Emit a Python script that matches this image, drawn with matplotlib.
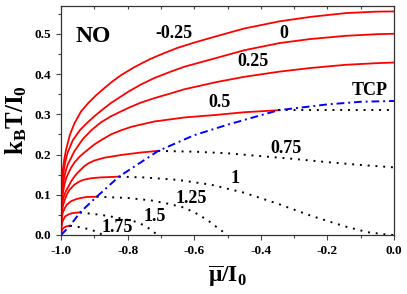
import numpy as np
import matplotlib.pyplot as plt
from matplotlib.ticker import MultipleLocator, NullLocator

plt.rcParams['font.family'] = ['Liberation Serif', 'DejaVu Serif']
plt.rcParams['font.weight'] = 'bold'
plt.rcParams['mathtext.fontset'] = 'custom'
plt.rcParams['mathtext.rm'] = 'Liberation Serif'
plt.rcParams['mathtext.bf'] = 'Liberation Serif:bold'
plt.rcParams['mathtext.it'] = 'Liberation Serif:italic'

# second-order lines (solid red)
red_m025_x = [-1, -0.9995, -0.999, -0.997, -0.995, -0.99, -0.985, -0.98, -0.973, -0.96, -0.94, -0.918, -0.895, -0.87, -0.845,
              -0.818, -0.78, -0.733, -0.69, -0.65, -0.6, -0.533, -0.45, -0.343, -0.25, -0.143, -0.05, 0]
red_m025_y = [0, 0.07, 0.10, 0.14, 0.16, 0.19, 0.212, 0.228, 0.25, 0.277, 0.307, 0.328, 0.347, 0.365, 0.382,
              0.398, 0.417, 0.437, 0.452, 0.465, 0.478, 0.494, 0.513, 0.531, 0.542, 0.5515, 0.555, 0.5555]
red_0_x = [-1, -0.9995, -0.999, -0.997, -0.995, -0.99, -0.985, -0.98, -0.965, -0.943, -0.92, -0.9, -0.875, -0.85, -0.8,
           -0.76, -0.72, -0.67, -0.63, -0.533, -0.45, -0.343, -0.25, -0.143, -0.05, 0]
red_0_y = [0, 0.055, 0.08, 0.115, 0.14, 0.17, 0.19, 0.205, 0.235, 0.261, 0.28, 0.295, 0.312, 0.328, 0.355,
           0.374, 0.39, 0.406, 0.418, 0.44, 0.459, 0.477, 0.487, 0.495, 0.499, 0.5]
red_025_x = [-1, -0.9995, -0.999, -0.997, -0.995, -0.99, -0.985, -0.98, -0.96, -0.935, -0.908, -0.88, -0.85, -0.8,
             -0.76, -0.72, -0.67, -0.63, -0.533, -0.45, -0.343, -0.25, -0.143, -0.05, 0]
red_025_y = [0, 0.05, 0.07, 0.1, 0.12, 0.145, 0.162, 0.175, 0.208, 0.238, 0.261, 0.28, 0.295, 0.315,
             0.329, 0.34, 0.352, 0.362, 0.38, 0.393, 0.406, 0.415, 0.423, 0.427, 0.4285]
red_05_x = [-1, -0.9995, -0.999, -0.997, -0.995, -0.99, -0.985, -0.98, -0.97, -0.96, -0.945, -0.93, -0.9, -0.875,
            -0.85, -0.82, -0.788, -0.72, -0.63, -0.533, -0.45, -0.347]
red_05_y = [0, 0.045, 0.06, 0.085, 0.10, 0.125, 0.14, 0.15, 0.167, 0.18, 0.194, 0.205, 0.225, 0.238,
            0.25, 0.26, 0.269, 0.282, 0.292, 0.2985, 0.305, 0.31]
red_075_x = [-1, -0.9995, -0.999, -0.997, -0.995, -0.99, -0.985, -0.978, -0.97, -0.96, -0.95, -0.94, -0.93, -0.918,
             -0.9, -0.87, -0.84, -0.818, -0.76, -0.708]
red_075_y = [0, 0.035, 0.05, 0.07, 0.085, 0.10, 0.11, 0.12, 0.133, 0.145, 0.155, 0.163, 0.171, 0.178,
             0.185, 0.192, 0.196, 0.199, 0.205, 0.209]
red_1_x = [-1, -0.9995, -0.999, -0.997, -0.995, -0.99, -0.983, -0.975, -0.96, -0.945, -0.933, -0.91, -0.883, -0.826]
red_1_y = [0, 0.03, 0.04, 0.058, 0.07, 0.085, 0.1, 0.112, 0.125, 0.133, 0.137, 0.141, 0.143, 0.145]
red_125_x = [-1, -0.9995, -0.999, -0.997, -0.995, -0.99, -0.983, -0.97, -0.953, -0.94, -0.923, -0.893]
red_125_y = [0, 0.022, 0.03, 0.045, 0.055, 0.065, 0.075, 0.084, 0.0895, 0.092, 0.0945, 0.095]
red_15_x = [-1, -0.9995, -0.999, -0.997, -0.995, -0.988, -0.978, -0.968, -0.955, -0.943]
red_15_y = [0, 0.015, 0.02, 0.029, 0.035, 0.046, 0.051, 0.054, 0.0555, 0.056]
red_175_x = [-1, -0.999, -0.998, -0.996, -0.993, -0.988, -0.983, -0.973]
red_175_y = [0, 0.007, 0.01, 0.014, 0.017, 0.02, 0.0215, 0.023]

# first-order lines (black dotted)
dot_05_x = [-0.347, 0]
dot_05_y = [0.31, 0.31]
dot_075_x = [-0.708, -0.6, -0.5, -0.4, -0.3, -0.2, -0.1, 0]
dot_075_y = [0.209, 0.207, 0.203, 0.196, 0.189, 0.181, 0.174, 0.168]
dot_1_x = [-0.826, -0.75, -0.65, -0.55, -0.45, -0.35, -0.25, -0.15, -0.08, -0.02, 0]
dot_1_y = [0.145, 0.143, 0.137, 0.125, 0.105, 0.078, 0.048, 0.022, 0.007, 0.001, 0]
dot_125_x = [-0.893, -0.8, -0.73, -0.68, -0.63, -0.59, -0.56, -0.53, -0.5]
dot_125_y = [0.095, 0.092, 0.086, 0.078, 0.068, 0.052, 0.037, 0.018, 0]
dot_15_x = [-0.943, -0.88, -0.83, -0.78, -0.75, -0.73, -0.71]
dot_15_y = [0.056, 0.05, 0.043, 0.034, 0.024, 0.013, 0]
dot_175_x = [-0.973, -0.94, -0.91, -0.89, -0.875]
dot_175_y = [0.023, 0.019, 0.013, 0.007, 0]

# tricritical line (blue dash-dot)
tcp_x = [-1, -0.973, -0.943, -0.893, -0.826, -0.708, -0.6, -0.5, -0.347, -0.2, -0.1, 0]
tcp_y = [0, 0.023, 0.056, 0.095, 0.145, 0.209, 0.248, 0.274, 0.31, 0.3245, 0.331, 0.333]

labels = ['-0.25', '0', '0.25', '0.5', '0.75', '1', '1.25', '1.5', '1.75', 'TCP', 'NO']
label_x = [-0.662, -0.332, -0.423, -0.523, -0.324, -0.478, -0.608, -0.72, -0.831, -0.073, -0.9025]
label_y = [0.5, 0.501, 0.432, 0.329, 0.215, 0.141, 0.09, 0.047, 0.018, 0.359, 0.4925]


def main():
    fig = plt.figure(figsize=(4.07, 2.94), dpi=100)
    ax = fig.add_axes([0.15, 0.2007, 0.818, 0.7803])

    reds = [(red_m025_x, red_m025_y), (red_0_x, red_0_y), (red_025_x, red_025_y),
            (red_05_x, red_05_y), (red_075_x, red_075_y), (red_1_x, red_1_y),
            (red_125_x, red_125_y), (red_15_x, red_15_y), (red_175_x, red_175_y)]
    for xs, ys in reds:
        ax.plot(xs, ys, color='red', lw=1.3, solid_joinstyle='round')

    dots = [(dot_05_x, dot_05_y), (dot_075_x, dot_075_y), (dot_1_x, dot_1_y),
            (dot_125_x, dot_125_y), (dot_15_x, dot_15_y), (dot_175_x, dot_175_y)]
    for xs, ys in dots:
        ax.plot(xs, ys, color='black', lw=1.4, linestyle=(0, (1, 3)))

    ax.plot(tcp_x, tcp_y, color='blue', lw=1.4, linestyle=(0, (4, 2, 1, 2)))

    for t, x, y in zip(labels, label_x, label_y):
        size = 17 if t == 'NO' else 13
        ax.text(x, y, t, ha='center', va='center', fontsize=size, fontweight='bold')

    ax.set_xlim(-1, 0)
    ax.set_ylim(0, 0.57)
    ax.xaxis.set_major_locator(MultipleLocator(0.2))
    ax.xaxis.set_minor_locator(MultipleLocator(0.1))
    ax.yaxis.set_major_locator(MultipleLocator(0.1))
    ax.yaxis.set_minor_locator(MultipleLocator(0.05))
    ax.xaxis.set_major_formatter(plt.FormatStrFormatter('%.1f'))
    ax.yaxis.set_major_formatter(plt.FormatStrFormatter('%.1f'))
    ax.tick_params(which='both', direction='out', labelsize=9.5, width=0.8, color='#444444')
    ax.tick_params(which='major', length=3.5)
    ax.tick_params(which='minor', length=2)
    for lab in ax.get_xticklabels() + ax.get_yticklabels():
        lab.set_fontweight('bold')
    for s in ax.spines.values():
        s.set_linewidth(0.9)
        s.set_color('#333333')

    # small inward ticks along the top edge
    top = ax.secondary_xaxis('top')
    top.xaxis.set_major_locator(NullLocator())
    top.xaxis.set_minor_locator(MultipleLocator(0.1))
    top.tick_params(which='minor', direction='in', length=2, width=0.8, color='#444444')
    top.spines['top'].set_visible(False)

    ax.set_xlabel(r'$\mathbf{\overline{\mu}/I_0}$', fontsize=17, labelpad=5)
    ax.set_ylabel(r'$\mathbf{k_B T/I_0}$', fontsize=18, labelpad=4)

    plt.savefig('out.png', dpi=100)


if __name__ == "__main__":
    main()
